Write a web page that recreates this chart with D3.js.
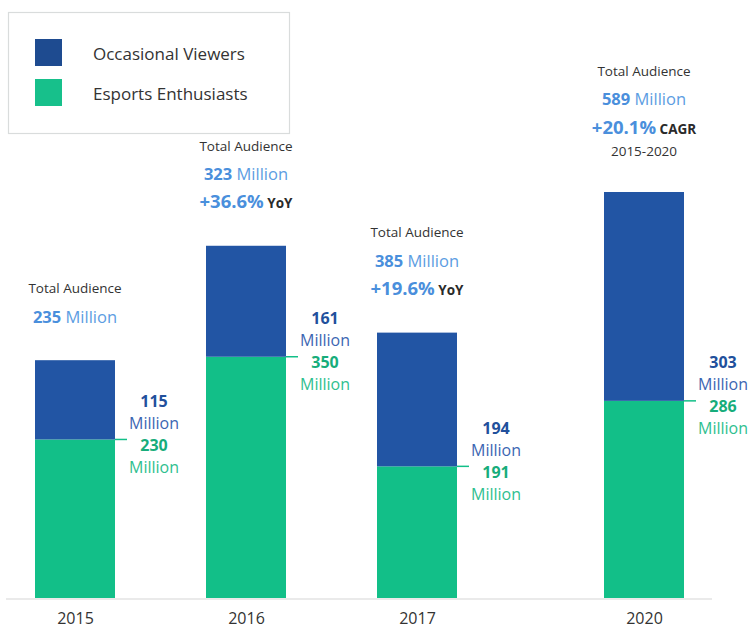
<!DOCTYPE html>
<html>
<head>
<meta charset="utf-8">
<script src="https://cdn.jsdelivr.net/npm/d3@7"></script>
<style>
  body { margin: 0; background: #ffffff; }
  svg { font-family: "Open Sans", Lato, "Noto Sans", sans-serif; }
</style>
</head>
<body>
<svg id="chart" width="753" height="628"></svg>
<script>
// Esports audience, millions of viewers
const years = ["2015", "2016", "2017", "2020"];
const yearNums = [2015, 2016, 2017, 2020];
const occasional = [115, 161, 194, 303];
const enthusiasts = [230, 350, 191, 286];
const totals = [235, 323, 385, 589];
const growthRates = [null, "+36.6%", "+19.6%", "+20.1%"];
const growthUnits = [null, "YoY", "YoY", "CAGR"];
const growthPeriods = [null, null, null, "2015-2020"];
const seriesNames = ["Occasional Viewers", "Esports Enthusiasts"];

const colors = {
  occasional: "#2255a4",
  enthusiasts: "#12bf88",
  occasionalLegend: "#1e4b90",
  enthusiastsLegend: "#17c08b",
  occasionalValue: "#21509c",
  occasionalUnit: "#3c66b2",
  enthusiastsValue: "#17ad7b",
  enthusiastsUnit: "#2fc08f",
  totalValue: "#4a8fdc",
  totalUnit: "#5c9de2",
  ink: "#333333"
};

const rows = years.map((y, i) => ({
  year: y,
  yearNum: yearNums[i],
  occasional: occasional[i],
  enthusiasts: enthusiasts[i],
  total: totals[i],
  growth: growthRates[i],
  unit: growthUnits[i],
  period: growthPeriods[i]
}));

const svg = d3.select("#chart");
const baseY = 598;
const barW = 80;

// Years are laid out with a narrower gap for the skipped 2018-2019 span
const x = d3.scaleLinear().domain([2015, 2017, 2020]).range([75, 417, 644]);

const stackMax = d3.max(rows, d => d.occasional + d.enthusiasts);
const y = d3.scaleLinear().domain([0, stackMax]).range([baseY, 192]);

const stack = d3.stack().keys(["enthusiasts", "occasional"]);
const layers = stack(rows);

// Baseline
svg.append("line")
  .attr("x1", 6).attr("x2", 712)
  .attr("y1", baseY + 1).attr("y2", baseY + 1)
  .attr("stroke", "#d6d6d6").attr("stroke-width", 1.2);

// Stacked bars
svg.append("g").selectAll("g")
  .data(layers)
  .join("g")
  .attr("fill", d => colors[d.key])
  .selectAll("rect")
  .data(d => d)
  .join("rect")
  .attr("x", d => x(d.data.yearNum) - barW / 2)
  .attr("width", barW)
  .attr("y", d => y(d[1]))
  .attr("height", d => y(d[0]) - y(d[1]));

// Year axis
const axis = d3.axisBottom(x)
  .tickValues(yearNums)
  .tickFormat(d3.format("d"))
  .tickSize(0)
  .tickPadding(15);
const axisG = svg.append("g")
  .attr("transform", `translate(0,${baseY})`)
  .call(axis);
axisG.select(".domain").remove();
axisG.selectAll("text")
  .attr("font-size", 16)
  .attr("fill", "#333")
  .attr("font-family", "'Open Sans', Lato, sans-serif");

// Segment value labels beside each bar, joined to the split by a short tick
const seg = svg.append("g").selectAll("g")
  .data(rows)
  .join("g")
  .attr("transform", d => `translate(${x(d.yearNum) + barW / 2},${y(d.enthusiasts)})`);

seg.append("line")
  .attr("x1", 0).attr("x2", 12)
  .attr("y1", 0).attr("y2", 0)
  .attr("stroke", colors.enthusiasts).attr("stroke-width", 1.5);

const segLine = (sel, dy, text, color, weight) =>
  sel.append("text")
    .attr("x", 39).attr("y", dy)
    .attr("dy", "0.35em")
    .attr("text-anchor", "middle")
    .attr("font-size", 16)
    .attr("font-weight", weight)
    .attr("fill", color)
    .text(text);

segLine(seg, -38, d => d.occasional, colors.occasionalValue, 700);
segLine(seg, -16, "Million", colors.occasionalUnit, 400);
segLine(seg, 6, d => d.enthusiasts, colors.enthusiastsValue, 700);
segLine(seg, 28, "Million", colors.enthusiastsUnit, 400);

// Total audience annotations above each bar
const ann = svg.append("g").selectAll("g")
  .data(rows)
  .join("g")
  .attr("transform", d => `translate(${x(d.yearNum)},${y(d.occasional + d.enthusiasts)})`);

ann.each(function (d) {
  const g = d3.select(this);
  const lines = ["title", "total"];
  if (d.growth) lines.push("growth");
  if (d.period) lines.push("period");
  // vertical centre of each line, counted up from the bar top
  let cy = d.period ? -41 : -43;
  const centres = [];
  for (let i = lines.length - 1; i >= 0; i--) {
    centres[i] = cy;
    cy -= (lines[i] === "period") ? 23 : 28.5;
  }
  lines.forEach((kind, i) => {
    const t = g.append("text")
      .attr("x", 0).attr("y", centres[i])
      .attr("dy", "0.35em")
      .attr("text-anchor", "middle");
    if (kind === "title") {
      t.attr("font-size", 13.5).attr("fill", colors.ink).text("Total Audience");
    } else if (kind === "total") {
      t.attr("font-size", 16.5);
      t.append("tspan").attr("font-weight", 700).attr("fill", colors.totalValue).text(d.total);
      t.append("tspan").attr("font-weight", 400).attr("fill", colors.totalUnit).text(" Million");
    } else if (kind === "growth") {
      t.append("tspan").attr("font-size", 18.5).attr("font-weight", 700)
        .attr("fill", colors.totalValue).text(d.growth);
      t.append("tspan").attr("font-size", 13.5).attr("font-weight", 700)
        .attr("fill", "#2a2a2a").text(" " + d.unit);
    } else {
      t.attr("font-size", 13.5).attr("fill", colors.ink).text(d.period);
    }
  });
});

// Legend
const legend = svg.append("g");
legend.append("rect")
  .attr("x", 8.5).attr("y", 12.5)
  .attr("width", 281).attr("height", 121)
  .attr("fill", "#fff")
  .attr("stroke", "#d9dcdc").attr("stroke-width", 1.2);

const legendColors = [colors.occasionalLegend, colors.enthusiastsLegend];
const legendRows = legend.selectAll("g.item")
  .data(seriesNames)
  .join("g")
  .attr("class", "item")
  .attr("transform", (d, i) => `translate(35,${39 + i * 40})`);
legendRows.append("rect")
  .attr("width", 27).attr("height", 27)
  .attr("fill", (d, i) => legendColors[i]);
legendRows.append("text")
  .attr("x", 58).attr("y", 15)
  .attr("dy", "0.35em")
  .attr("font-size", 17)
  .attr("font-weight", 500)
  .attr("fill", "#333")
  .text(d => d);
</script>
</body>
</html>
